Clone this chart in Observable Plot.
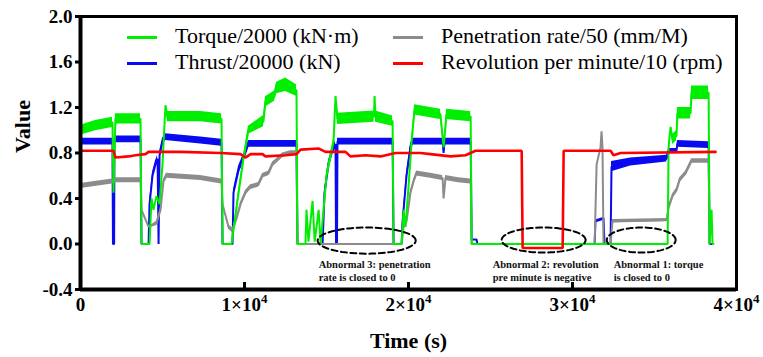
<!DOCTYPE html>
<html><head><meta charset="utf-8">
<script src="https://cdn.jsdelivr.net/npm/d3@7"></script>
<script src="https://cdn.jsdelivr.net/npm/@observablehq/plot@0.6"></script>
<style>
body{margin:0;background:#fff;}
#wrap{position:relative;width:763px;height:357px;overflow:hidden;}
.leg{position:absolute;font-family:"Liberation Serif","DejaVu Serif",serif;font-size:22px;color:#000;line-height:22px;white-space:nowrap;}
.sw{position:absolute;height:3px;width:30px;}
svg text{font-family:"Liberation Serif","DejaVu Serif",serif;}
</style></head><body><div id="wrap"></div>
<script>
// ---- data: [time (s), value, noise half-width] ----
const torque = [
 [0,1.00,0.045],[915,1.04,0.045],[1950,1.07,0.045],[2010,0.45,0],[2130,1.10,0.045],[3660,1.10,0.045],[3720,0,0],[4210,0,0],
 [4330,0.40,0],[4450,0.30,0],[4630,0.42,0],[4820,0.35,0],[5000,0.70,0],[5180,1.22,0],[5300,1.12,0.045],[7320,1.12,0.045],
 [8600,1.10,0.045],[8660,0,0],[9210,0,0],[9640,0.45,0.03],[9940,0.75,0.03],[10240,1.00,0.035],[11160,1.08,0.05],
 [11280,1.25,0.045],[11830,1.30,0.045],[11950,1.37,0.05],[12500,1.40,0.06],[13170,1.35,0.05],[13230,0,0],[13720,0,0],
 [13780,0.30,0],[13900,0.02,0],[14150,0.38,0],[14280,0.02,0],[14520,0.30,0],[14640,0,0],[15000,0.60,0.03],
 [15430,0.90,0.03],[15550,1.30,0],[15670,1.10,0.05],[17900,1.12,0.05],[17930,1.30,0],[17990,1.12,0.05],
 [19030,1.08,0.045],[19090,0,0],[19580,0,0],[19700,0.30,0],[19820,0.15,0],[20000,0.50,0],[20190,0.90,0.03],
 [20370,1.18,0.045],[21950,1.14,0.045],[22140,0.85,0],[22320,1.14,0.045],[23790,1.12,0.045],[23850,0,0],
 [35800,0,0],[35860,0.85,0.02],[35980,1.03,0],[36100,0.92,0.045],[36340,0.95,0.045],[36400,1.15,0.05],
 [37200,1.15,0.05],[37260,1.33,0.06],[38300,1.33,0.06],[38360,0,0],[38480,0.30,0],[38540,0,0],[38600,0,0]
];
const thrust = [
 [0,0.90,0.03],[1950,0.90,0.03],[1980,0,0],[2050,0,0],[2070,0.92,0.03],[3660,0.92,0.03],[3720,0,0],[4150,0,0],
 [4210,0.35,0.02],[4390,0.60,0.03],[4570,0.70,0.03],[4700,0.75,0.03],[4760,0,0],[4820,0.78,0.03],[5000,0.90,0.03],
 [5180,0.94,0.03],[7320,0.91,0.03],[8600,0.89,0.03],[8660,0,0],[9270,0,0],[9330,0.45,0.03],[9640,0.65,0.035],
 [10000,0.78,0.03],[10240,0.88,0.03],[13170,0.88,0.03],[13230,0,0],[14760,0,0],[14880,0.45,0.03],[15120,0.70,0.03],
 [15310,0.80,0.03],[15550,0.88,0.03],[15580,0,0],[15640,0,0],[15670,0.90,0.03],[19030,0.90,0.03],[19090,0,0],
 [19580,0,0],[19640,0.20,0.02],[19880,0.60,0.03],[20120,0.85,0.03],[20250,0.90,0.03],[22080,0.90,0.03],
 [22140,0.80,0],[22200,0.90,0.03],[23790,0.90,0.03],[23850,0.04,0],[24150,0.04,0],[24200,0,0],[31350,0,0],
 [31400,0.20,0.01],[31830,0.22,0.01],[31890,0.23,0],[31950,0,0],[32320,0,0],[32380,0.68,0.045],[33540,0.72,0.035],
 [35740,0.75,0.03],[35860,0.82,0.02],[36340,0.82,0.02],[36400,0.88,0.03],[38300,0.87,0.03],[38360,0,0],[38480,0,0]
];
const penetration = [
 [0,0.51,0.022],[1950,0.55,0.022],[2130,0.56,0.022],[3660,0.56,0.022],[3720,0.30,0],[4150,0.15,0],[4630,0.18,0.02],
 [4880,0.30,0.02],[5060,0.55,0.02],[5240,0.60,0.022],[7320,0.58,0.022],[8600,0.55,0.022],[8660,0.35,0],
 [9030,0.15,0.02],[9270,0.12,0.02],[9510,0.22,0.02],[9760,0.35,0.02],[10060,0.45,0.02],[10370,0.50,0.02],
 [10850,0.52,0.02],[11100,0.60,0.02],[11460,0.62,0.02],[11710,0.70,0.02],[11950,0.73,0.02],[12320,0.78,0.02],
 [12810,0.80,0.02],[13170,0.80,0.02],[13230,0,0],[19580,0,0],[19700,0.15,0],[19880,0.20,0],[20120,0.45,0.02],
 [20310,0.55,0.02],[20490,0.62,0.022],[21340,0.60,0.022],[22080,0.58,0.022],[22140,0.40,0],[22260,0.58,0.022],
 [23050,0.56,0.022],[23790,0.55,0.022],[23850,0,0],[31350,0,0],[31470,0.70,0],[31710,0.85,0],[31770,0.99,0],
 [31830,0.85,0],[31890,0,0],[32320,0,0],[32440,0.20,0.015],[35740,0.21,0.015],[35860,0.32,0.02],[36100,0.42,0.02],
 [36340,0.47,0.02],[36530,0.56,0.02],[36890,0.62,0.02],[37260,0.73,0.02],[38300,0.73,0.02],[38360,0,0]
];
const rpm = [
 [0,0.82],[2010,0.82],[2130,0.76],[2930,0.77],[3350,0.78],[3960,0.79],[4150,0.81],[6100,0.81],[8540,0.80],
 [9760,0.79],[10060,0.76],[10370,0.79],[11100,0.79],[11280,0.77],[12500,0.78],[13170,0.79],[13420,0.83],
 [14510,0.84],[14940,0.81],[16160,0.81],[16460,0.77],[17380,0.78],[18290,0.77],[19210,0.80],[20730,0.80],
 [21340,0.79],[22560,0.77],[23480,0.78],[24090,0.82],[26900,0.82],[26960,-0.035],[29400,-0.035],[29460,0.82],
 [32320,0.82],[32500,0.78],[32930,0.80],[38720,0.81]
];
const seriesNames = ["Torque/2000 (kN\u00b7m)","Thrust/20000 (kN)","Penetration rate/50 (mm/M)","Revolution per minute/10 (rpm)"];
const seriesColors = ["#00ee00","#0a0af0","#8c8c8c","#ff0000"];
const yTicks = [-0.4,0.0,0.4,0.8,1.2,1.6,2.0];
const xTicks = [0,10000,20000,30000,40000];
const xInnerTicks = [10000,20000,30000];
const annotations = [
 {t:14520, v:-0.235, label:"Abnormal 3: penetration\nrate is closed to 0"},
 {t:25130, v:-0.235, label:"Abnormal 2: revolution\npre minute is negative"},
 {t:32510, v:-0.235, label:"Abnormal 1: torque\nis closed to 0"}
];
const ellipses = [
 {t:17450, v:0.03, rt:2990, rv:0.115},
 {t:28240, v:0.035, rt:2560, rv:0.11},
 {t:34190, v:0.035, rt:2100, rv:0.11}
];

// ---- drawing ----
const ellPts = ellipses.flatMap((e,i)=>d3.range(0,361,4).map(a=>({i,
  t:e.t+e.rt*Math.cos(a*Math.PI/180), v:e.v+e.rv*Math.sin(a*Math.PI/180)})));
const X = d=>d[0], Yv = d=>d[1];
function seriesMarks(data, color, sw){
  return [
    Plot.areaY(data,{x:X, y1:d=>d[1]-(d[2]||0), y2:d=>d[1]+(d[2]||0), fill:color}),
    Plot.line(data,{x:X, y:Yv, stroke:color, strokeWidth:sw, strokeLinejoin:"miter"})
  ];
}
const font = "'Liberation Serif', 'DejaVu Serif', serif";
const xfmt = d => d===0 ? "0" : `${d/10000}\u00d710^4`;
const chart = Plot.plot({
  width:763, height:357,
  marginLeft:80, marginRight:27, marginTop:16, marginBottom:68,
  x:{domain:[0,40000]},
  y:{domain:[-0.4,2.0]},
  style:{fontFamily:font, background:"white", color:"black"},
  marks:[
    ...seriesMarks(thrust, seriesColors[1], 2),
    ...seriesMarks(penetration, seriesColors[2], 2),
    ...seriesMarks(torque, seriesColors[0], 2),
    ...seriesMarks(rpm, seriesColors[3], 2.6),
    Plot.line(ellPts,{x:"t", y:"v", z:"i", stroke:"black", strokeWidth:2, strokeDasharray:"6,3.5"}),
    Plot.text(annotations,{x:"t", y:"v", text:"label", textAnchor:"start", lineAnchor:"middle",
      fontSize:10.5, fontWeight:"bold", lineHeight:1.25, fill:"#111"}),
    Plot.axisY(yTicks,{tickSize:5, strokeWidth:3, tickPadding:3, tickFormat:d=>d.toFixed(1),
      fontSize:19, fontWeight:"bold", label:null}),
    Plot.axisX(xInnerTicks,{tickSize:7, dy:-7, strokeWidth:3, fill:"none", label:null}),
    Plot.axisX(xTicks,{tickSize:0, tickPadding:8, tickFormat:xfmt, fontSize:19, fontWeight:"bold", label:null}),
    Plot.frame({stroke:"black", strokeWidth:3}),
    Plot.ruleX([0],{stroke:"black", strokeWidth:4}),
    Plot.ruleY([-0.4],{stroke:"black", strokeWidth:4}),
    Plot.text(["Value"],{text:d=>d, frameAnchor:"left", dx:-58, rotate:-90, fontSize:22, fontWeight:"bold"}),
    Plot.text(["Time (s)"],{text:d=>d, frameAnchor:"bottom", dy:58, fontSize:22, fontWeight:"bold"})
  ]
});
// superscript exponent in x tick labels
chart.querySelectorAll("text").forEach(t=>{
  if (t.textContent.includes("^")) {
    const [base, exp] = t.textContent.split("^");
    t.textContent = base;
    const ts = document.createElementNS("http://www.w3.org/2000/svg","tspan");
    ts.setAttribute("dy","-8"); ts.setAttribute("font-size","13");
    ts.textContent = exp;
    t.appendChild(ts);
  }
});
const wrap = document.getElementById("wrap");
wrap.appendChild(chart);
// legend overlay (inside the plot frame)
const legCols = [127, 393], legRows = [37, 63];
seriesNames.forEach((name,i)=>{
  const col = i===0||i===1 ? 0 : 1, row = (i===0||i===2) ? 0 : 1;
  const sw = document.createElement("div");
  sw.className="sw"; sw.style.background=seriesColors[i];
  sw.style.left=legCols[col]+"px"; sw.style.top=(legRows[row]-1.5)+"px";
  wrap.appendChild(sw);
  const tx = document.createElement("div");
  tx.className="leg"; tx.textContent=name;
  tx.style.left=(legCols[col]+48)+"px"; tx.style.top=(legRows[row]-12)+"px";
  wrap.appendChild(tx);
});
</script></body></html>
